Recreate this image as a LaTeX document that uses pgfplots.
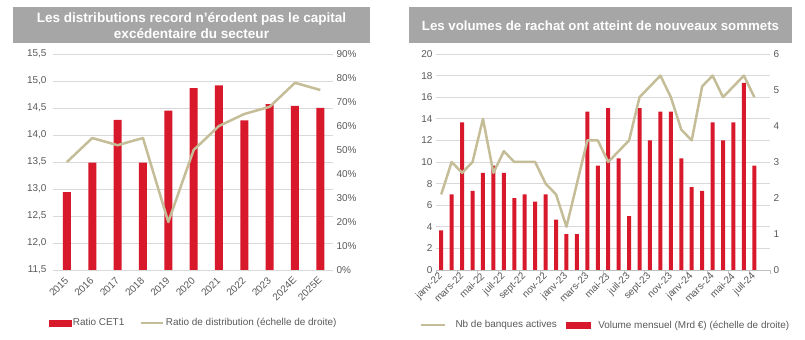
\documentclass[border=0pt]{standalone}
\usepackage{pgfplots}
\pgfplotsset{compat=1.18}
\usepackage{fontspec}
\setmainfont{Liberation Sans}
\definecolor{cred}{HTML}{D7192B}
\definecolor{ctan}{HTML}{C4BD97}
\definecolor{ctitle}{HTML}{A6A6A6}
\definecolor{ctext}{HTML}{595959}
\definecolor{cgrid}{HTML}{D9D9D9}
\definecolor{caxis}{HTML}{BFBFBF}
\pgfplotsset{
  base/.style={scale only axis, anchor=south west,
    /pgf/number format/assume math mode=true,
    ticklabel style={font=\fontsize{10}{11}\selectfont, text=ctext},
    axis line style={draw=none}, tick style={draw=none},
    grid style={cgrid, line width=0.7bp}},
  leg/.style={legend style={draw=none, fill=none, font=\fontsize{10}{11}\selectfont, text=ctext,
    legend columns=2, legend cell align=left, inner sep=0pt,
    nodes={inner sep=1.5bp}}}
}
\begin{document}
\begin{tikzpicture}
\path (0bp,0bp) rectangle (805bp,340bp);
% titles
\node[fill=ctitle, minimum width=357bp, minimum height=36bp, text=white,
  font=\bfseries\fontsize{13.6}{16}\selectfont, align=center, inner sep=0pt]
  at (191.5bp,314.5bp) {Les distributions record n'érodent pas le capital\\excédentaire du secteur};
\node[fill=ctitle, minimum width=383bp, minimum height=36bp, text=white,
  font=\bfseries\fontsize{13.3}{15}\selectfont, align=center, inner sep=0pt]
  at (600.5bp,314.5bp) {Les volumes de rachat ont atteint de nouveaux sommets};

% ---------- left chart: bars (CET1)
\begin{axis}[base, at={(53bp,70bp)}, width=280bp, height=216bp,
  xmin=-0.55, xmax=10.5, ymin=11.5, ymax=15.5,
  ytick={11.5,12,12.5,13,13.5,14,14.5,15,15.5}, ymajorgrids,
  yticklabel style={xshift=-3bp, /pgf/number format/.cd, fixed, fixed zerofill, precision=1, use comma},
  xtick={0,...,10},
  xticklabels={2015,2016,2017,2018,2019,2020,2021,2022,2023,2024E,2025E},
  xticklabel style={rotate=45, anchor=east, yshift=-3bp},
  ybar, bar width=8bp]
\addplot[fill=cred, draw=none] coordinates {
 (0,12.94) (1,13.49) (2,14.28) (3,13.49) (4,14.45) (5,14.87)
 (6,14.92) (7,14.27) (8,14.57) (9,14.54) (10,14.50)};
\end{axis}
% ---------- left chart: line (distribution ratio)
\begin{axis}[base, leg, at={(53bp,70bp)}, width=280bp, height=216bp,
  xmin=-0.55, xmax=10.5, ymin=0, ymax=90,
  axis y line*=right, hide x axis,
  ytick={0,10,...,90}, yticklabel={\pgfmathprintnumber{\tick}\%},
  legend style={at={(-0.015,-0.245)}, anchor=west,
    /tikz/every even column/.append style={column sep=14bp}}]
\addlegendimage{legend image code/.code={\fill[cred] (0bp,-3bp) rectangle (22bp,3bp);}}
\addlegendentry{Ratio CET1}
\addplot[ctan, line width=2.5bp, line join=round,
  legend image code/.code={\draw[ctan, line width=2.5bp] (0bp,0bp) -- (22bp,0bp);}]
  coordinates {
 (0,45) (1,55) (2,52) (3,55) (4,20) (5,50)
 (6,60) (7,65) (8,68) (9,78) (10,75)};
\addlegendentry{Ratio de distribution (échelle de droite)}
\end{axis}

% ---------- right chart: grid + left scale + x axis
\begin{axis}[base, at={(436bp,70bp)}, width=334bp, height=216bp,
  xmin=0.5, xmax=32.5, ymin=0, ymax=20,
  ytick={0,2,...,20}, ymajorgrids,
  axis x line*=bottom, axis y line*=left,
  x axis line style={draw=caxis, line width=0.7bp},
  xtick={1,3,...,31},
  xticklabels={janv-22,mars-22,mai-22,juil-22,sept-22,nov-22,janv-23,mars-23,mai-23,juil-23,sept-23,nov-23,janv-24,mars-24,mai-24,juil-24},
  minor xtick={0.5,2.5,...,32.5},
  major tick length=0pt, minor tick length=4bp, tick align=outside,
  xtick style={draw=caxis, line width=0.7bp},
  xticklabel style={rotate=45, anchor=east, yshift=-3bp}]
\end{axis}
% ---------- right chart: bars (volume, right scale)
\begin{axis}[base, at={(436bp,70bp)}, width=334bp, height=216bp,
  xmin=0.5, xmax=32.5, ymin=0, ymax=6,
  axis y line*=right, hide x axis, ytick={0,...,6},
  ybar, bar width=4bp]
\addplot[fill=cred, draw=none] coordinates {
 (1,1.1) (2,2.1) (3,4.1) (4,2.2) (5,2.7) (6,2.9) (7,2.7) (8,2.0)
 (9,2.1) (10,1.9) (11,2.1) (12,1.4) (13,1.0) (14,1.0) (15,4.4) (16,2.9)
 (17,4.5) (18,3.1) (19,1.5) (20,4.5) (21,3.6) (22,4.4) (23,4.4) (24,3.1)
 (25,2.3) (26,2.2) (27,4.1) (28,3.6) (29,4.1) (30,5.2) (31,2.9)};
\end{axis}
% ---------- right chart: line (banks)
\begin{axis}[base, leg, at={(436bp,70bp)}, width=334bp, height=216bp,
  xmin=0.5, xmax=32.5, ymin=0, ymax=20,
  hide x axis, hide y axis,
  legend style={at={(-0.05,-0.255)}, anchor=west,
    /tikz/every even column/.append style={column sep=8bp}}]
\addplot[ctan, line width=2.5bp, line join=round,
  legend image code/.code={\draw[ctan, line width=2.5bp] (0bp,0bp) -- (24bp,0bp); \path (32bp,0bp);}]
  coordinates {
 (1,7) (2,10) (3,9) (4,10) (5,14) (6,9) (7,11) (8,10)
 (9,10) (10,10) (11,8) (12,7) (13,4) (14,8) (15,12) (16,12)
 (17,10) (18,11) (19,12) (20,16) (21,17) (22,18) (23,16) (24,13)
 (25,12) (26,17) (27,18) (28,16) (29,17) (30,18) (31,16)};
\addlegendentry{Nb de banques actives}
\addlegendimage{legend image code/.code={\fill[cred] (0bp,-3bp) rectangle (24bp,3bp); \path (30bp,0bp);}}
\addlegendentry{Volume mensuel (Mrd €) (échelle de droite)}
\end{axis}
\end{tikzpicture}
\end{document}
